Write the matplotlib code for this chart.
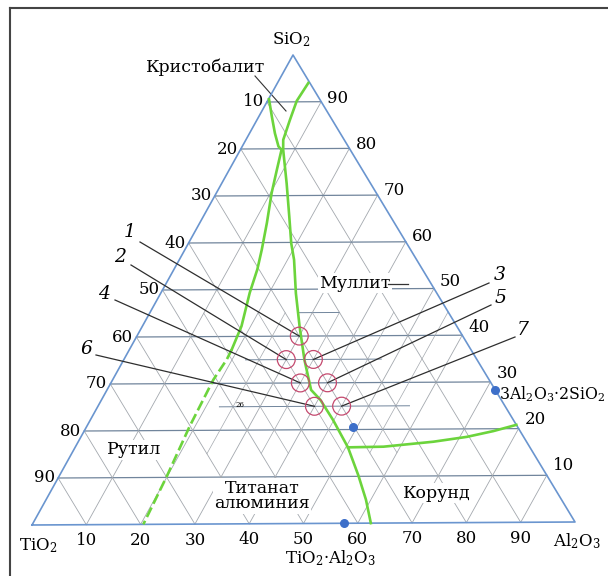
import numpy as np
import matplotlib.pyplot as plt
from matplotlib.transforms import Affine2D

plt.rcParams['font.family'] = ['DejaVu Serif']
plt.rcParams['mathtext.fontset'] = 'dejavuserif'

# corners of the triangle on the page (pixels): TiO2, Al2O3, SiO2
TI = (32, 525)
AL = (575, 522)
SI = (293, 55)

# phase boundaries, given as Al2O3 % and SiO2 %
mullite_al = [5.7, 5.4, 6.1, 6.9, 7.9, 12.0, 15.9, 19.0, 21.2, 25.0, 29.1, 33.4,
              37.7, 40.4, 44.8, 50.4, 55.2, 59.1, 62.4]
mullite_si = [94.0, 90.2, 86.1, 81.9, 79.8, 72.6, 65.5, 59.8, 56.3, 49.1, 42.0, 34.9,
              28.5, 26.4, 22.1, 16.2, 10.2, 5.0, 0.0]
corund_al = [50.4, 56.9, 65.6, 71.3, 75.6, 79.2]
corund_si = [16.2, 16.3, 17.3, 18.3, 19.5, 20.8]
rutile_al = [0.1, 2.4, 4.7, 6.7, 7.6, 8.8, 10.2, 12.4, 14.2, 15.4, 16.4, 18.3, 18.9]
rutile_si = [90.6, 86.9, 83.3, 80.5, 79.8, 75.5, 70.6, 64.2, 58.5, 54.3, 49.3, 42.2, 37.2]
dash_al = [18.9, 19.0, 18.6, 19.0, 19.9, 20.5]
dash_si = [37.2, 35.1, 30.8, 20.9, 10.3, 0.0]

# studied compositions
samples = ['1', '2', '3', '4', '5', '6', '7']
sample_al = [30, 30, 35, 35, 40, 40, 45]
sample_si = [40, 35, 35, 30, 30, 25, 25]

# compounds (blue dots)
comp_al = [71.8, 49.3, 57.5]
comp_si = [28.2, 20.6, 0.0]

ticks = [10, 20, 30, 40, 50, 60, 70, 80, 90]

# label positions for the sample numbers (pixels)
label_pos = {'1': (130, 232), '2': (120, 257), '3': (500, 275), '4': (104, 294),
             '5': (501, 298), '6': (86, 349), '7': (523, 330)}
line_start = {'1': (140, 242), '2': (131, 265), '3': (489, 283), '4': (115, 300),
              '5': (491, 305), '6': (96, 355), '7': (515, 337)}

fig = plt.figure(figsize=(6.08, 5.76), dpi=100)
ax = fig.add_axes([0, 0, 1, 1])
ax.set_xlim(0, 608)
ax.set_ylim(576, 0)
ax.axis('off')

M = np.array([[(AL[0] - TI[0]) / 100, (SI[0] - TI[0]) / 100, TI[0]],
              [(AL[1] - TI[1]) / 100, (SI[1] - TI[1]) / 100, TI[1]],
              [0, 0, 1]])
aff = Affine2D(M)
tern = aff + ax.transData

def px(a, s):
    return aff.transform((a, s))

# grid
hcol = '#71859c'
dcol = '#a3a8ae'
for v in ticks:
    ax.plot([0, 100 - v], [v, v], color=hcol, lw=0.9, transform=tern, zorder=1)
    ax.plot([v, v], [0, 100 - v], color=dcol, lw=0.6, transform=tern, zorder=1)
    ax.plot([100 - v, 0], [0, 100 - v], color=dcol, lw=0.6, transform=tern, zorder=1)

# finer lines around the studied compositions
for s, a0, a1 in [(45, 27.5, 35), (35, 22.5, 47.5), (25, 22.5, 57.5)]:
    ax.plot([a0, a1], [s, s], color=hcol, lw=0.7, transform=tern, zorder=1)
for a in [25, 35, 45, 55]:
    ax.plot([a, a], [15, 45], color=dcol, lw=0.5, transform=tern, zorder=1)
for t in [25, 35, 45]:
    ax.plot([100 - t - 15, 100 - t - 45], [15, 45], color=dcol, lw=0.5, transform=tern, zorder=1)

# triangle
ax.plot([0, 100, 0, 0], [0, 0, 100, 0], color='#6a95cf', lw=1.2, transform=tern, zorder=3)

# phase boundaries
green = '#6cd43c'
ax.plot(mullite_al, mullite_si, color=green, lw=1.9, transform=tern, zorder=4)
ax.plot(corund_al, corund_si, color=green, lw=1.9, transform=tern, zorder=4)
ax.plot(rutile_al, rutile_si, color=green, lw=1.9, transform=tern, zorder=4)
ax.plot(dash_al, dash_si, color=green, lw=1.9, dashes=(4, 1.6), transform=tern, zorder=4)

# compositions
ax.scatter(sample_al, sample_si, s=165, facecolors='none', edgecolors='#c4496e',
           linewidths=0.9, transform=tern, zorder=6)
for name, a, s in zip(samples, sample_al, sample_si):
    cx, cy = px(a, s)
    x0, y0 = line_start[name]
    ax.plot([x0, cx], [y0, cy], color='#2e2e2e', lw=0.9, zorder=5)
    lx, ly = label_pos[name]
    ax.text(lx, ly, name, fontsize=13.5, style='italic', ha='center', va='center')

ax.scatter(comp_al, comp_si, s=30, color='#3d6fc9', transform=tern, zorder=7)

# tick labels
fs = 12
for v in ticks:
    x, y = px(0, 100 - v)
    ax.text(x - 3, y, str(v), fontsize=fs, ha='right', va='center')
    x, y = px(100 - v, v)
    ax.text(x + 6, y - 2 - 0.09 * (100 - v), str(v), fontsize=fs, ha='left', va='center')
    x, y = px(v, 0)
    ax.text(x, y + 16, str(v), fontsize=fs, ha='center', va='center')

# corner and compound names
ax.text(291, 40, r'SiO$_2$', fontsize=fs, ha='center', va='center')
ax.text(38, 546, r'TiO$_2$', fontsize=fs, ha='center', va='center')
ax.text(577, 541, r'Al$_2$O$_3$', fontsize=fs, ha='center', va='center')
ax.text(330, 558, r'TiO$_2$·Al$_2$O$_3$', fontsize=fs, ha='center', va='center')
ax.text(499, 394, r'3Al$_2$O$_3$·2SiO$_2$', fontsize=11.3, ha='left', va='center')

# phase fields
lf = 12.5
box = dict(facecolor='white', edgecolor='none', pad=1)
ax.text(206, 67, 'Кристобалит', fontsize=lf, ha='center', va='center')
ax.plot([255, 286], [76, 111], color='#333333', lw=0.8)
ax.text(319, 283, 'Муллит', fontsize=lf, ha='left', va='center', bbox=box, zorder=8)
ax.plot([388, 408], [284, 284], color='#333333', lw=0.9, zorder=8)
ax.text(134, 450, 'Рутил', fontsize=lf, ha='center', va='center', bbox=box, zorder=8)
ax.text(262, 496, 'Титанат\nалюминия', fontsize=lf, ha='center', va='center',
        linespacing=0.9, bbox=box, zorder=8)
ax.text(437, 493, 'Корунд', fontsize=lf, ha='center', va='center', bbox=box, zorder=8)
ax.text(240, 405, '26', fontsize=5, ha='center', va='center')

# frame of the scan
ax.plot([10, 10], [8, 576], color='#444444', lw=1.5)
ax.plot([10, 608], [8, 8], color='#444444', lw=1.5)

fig.savefig('out.png', dpi=100)
